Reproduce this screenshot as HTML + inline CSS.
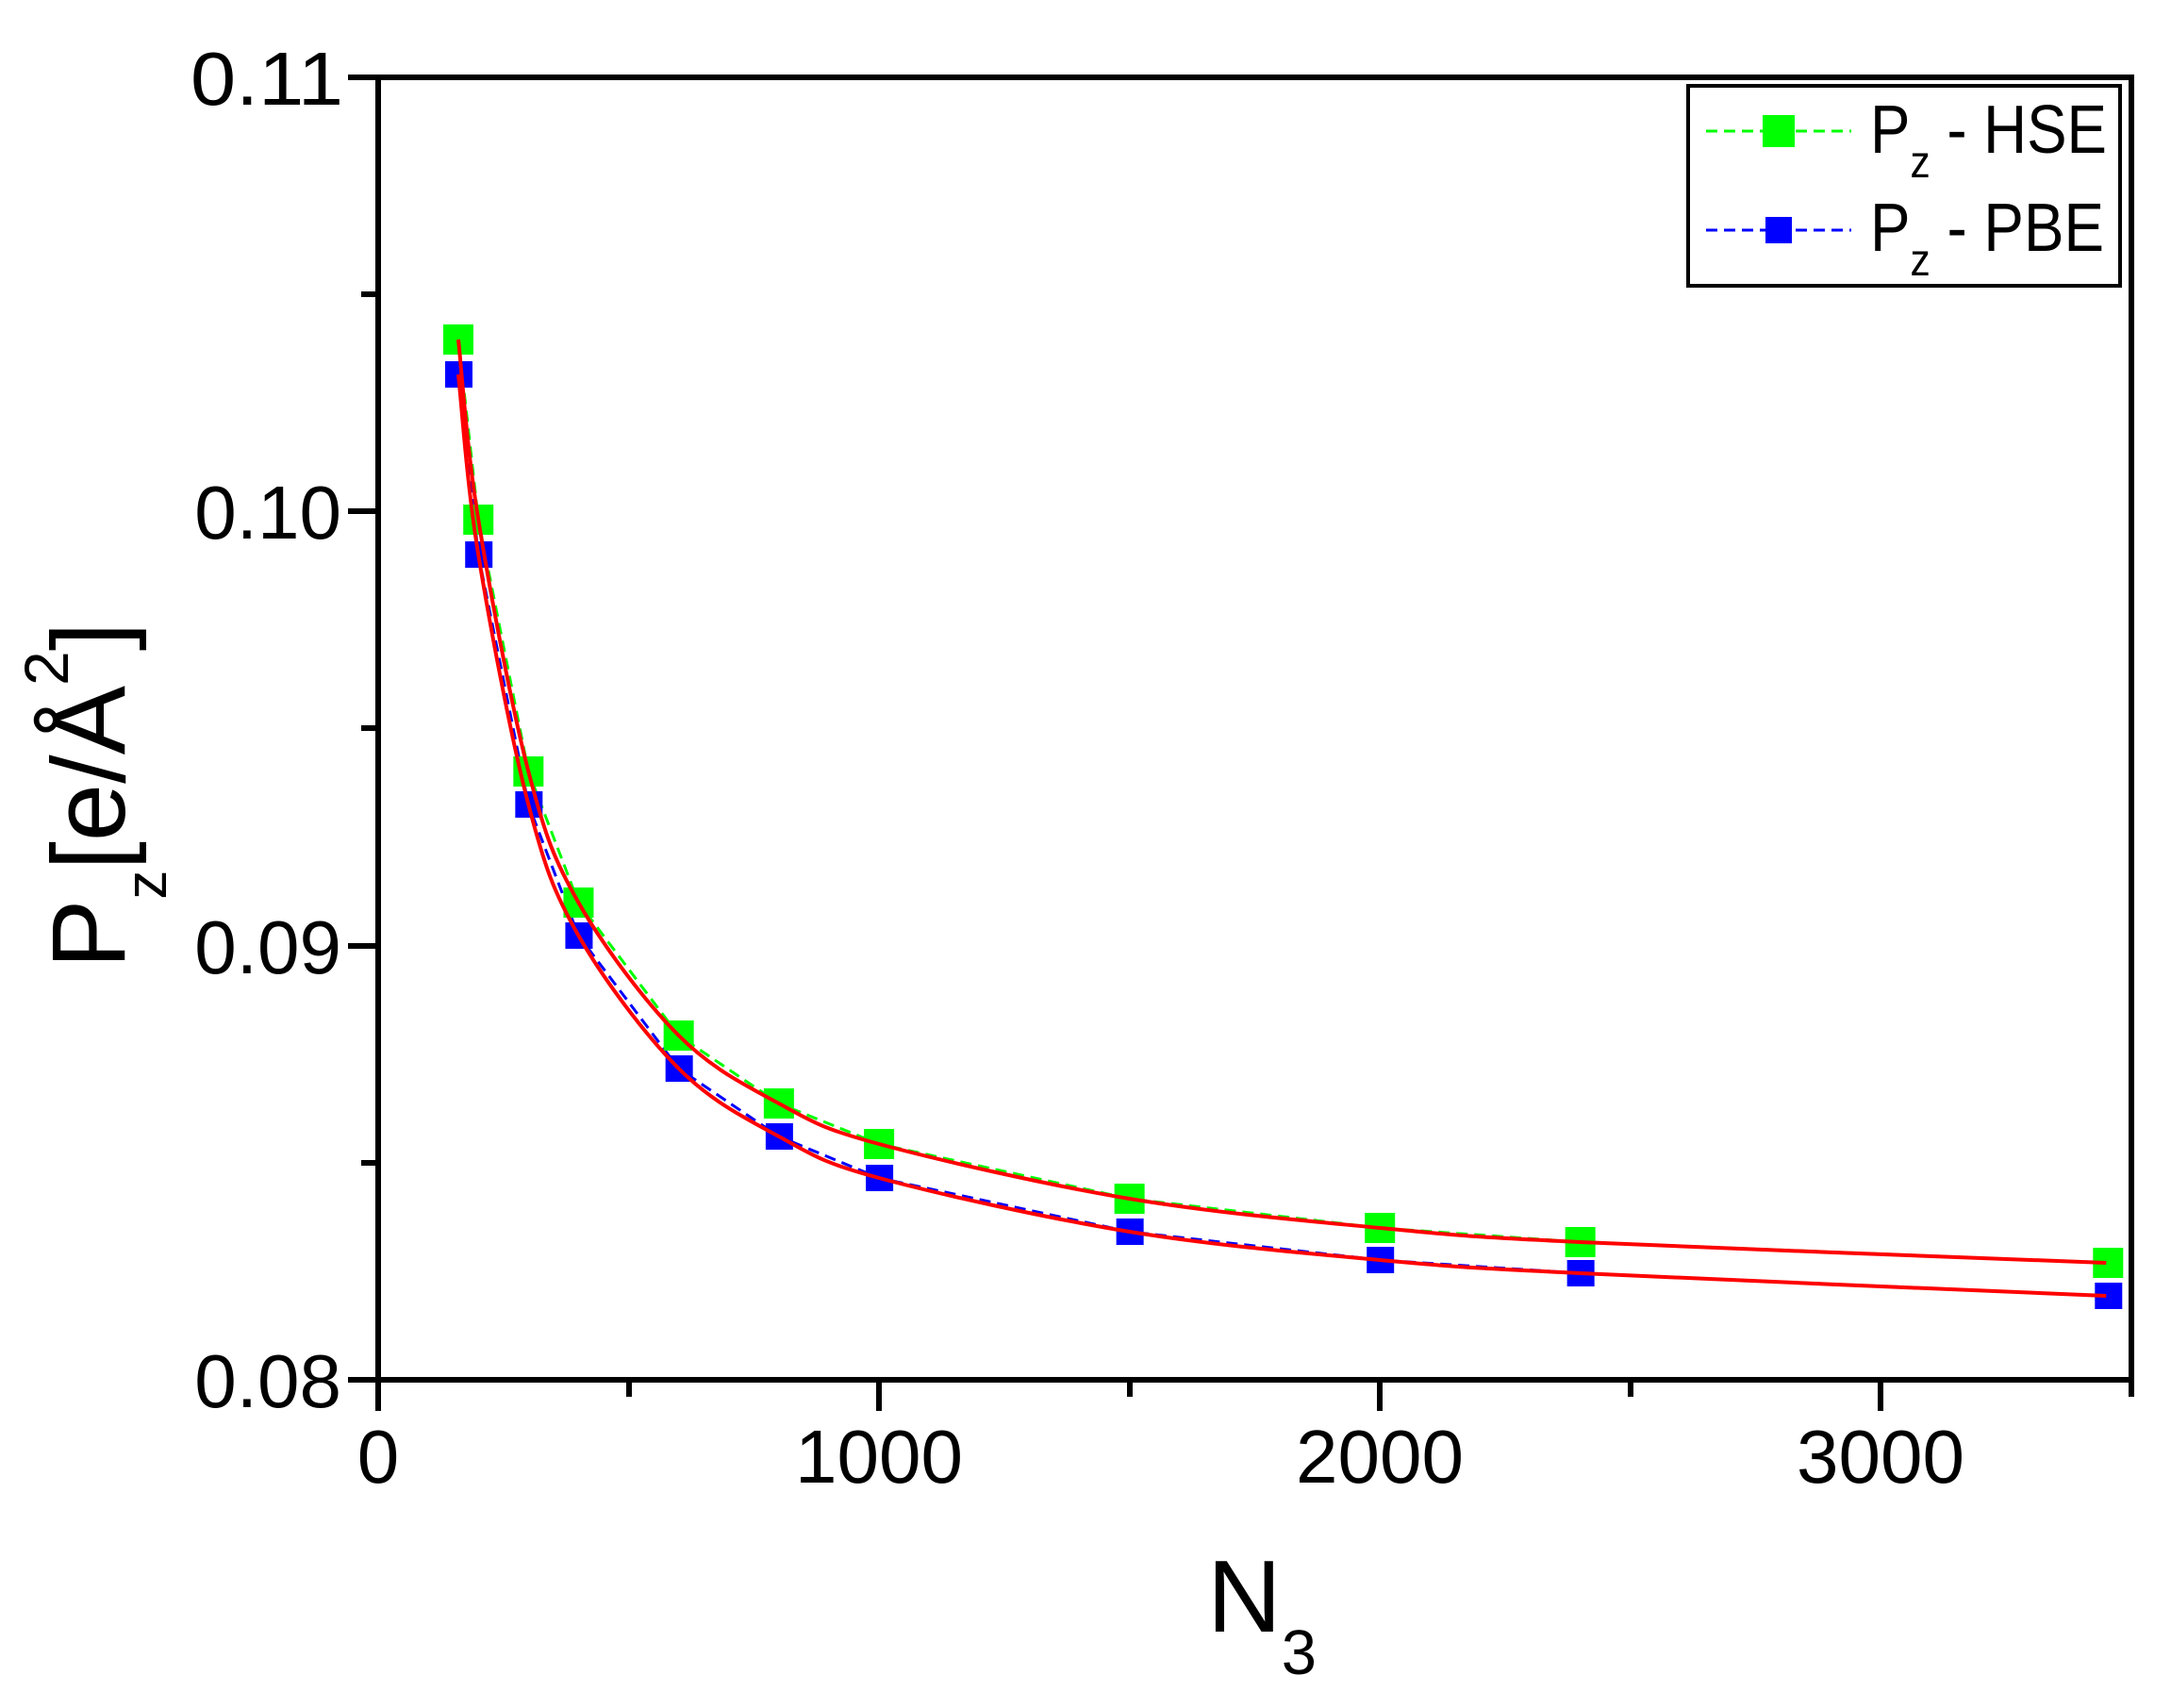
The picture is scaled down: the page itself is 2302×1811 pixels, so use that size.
<!DOCTYPE html>
<html><head><meta charset="utf-8"><style>
html,body{margin:0;padding:0;background:#fff;}
svg{display:block;}
text{font-family:"Liberation Sans",Arial,sans-serif;fill:#000;}
</style></head><body>
<svg id="s" width="2302" height="1811" viewBox="0 0 2302 1811" xmlns="http://www.w3.org/2000/svg">
<rect width="2302" height="1811" fill="#fff"/>
<g id="data"></g>
<g stroke="#000" stroke-width="6" fill="none" stroke-linecap="square">
<rect x="401" y="82" width="1859" height="1381"/>
<line x1="372" y1="82" x2="401" y2="82"/>
<line x1="372" y1="542" x2="401" y2="542"/>
<line x1="372" y1="1003" x2="401" y2="1003"/>
<line x1="372" y1="1463" x2="401" y2="1463"/>
<line x1="386" y1="312" x2="401" y2="312"/>
<line x1="386" y1="772" x2="401" y2="772"/>
<line x1="386" y1="1233" x2="401" y2="1233"/>
<line x1="401" y1="1463" x2="401" y2="1493"/>
<line x1="932" y1="1463" x2="932" y2="1493"/>
<line x1="1463" y1="1463" x2="1463" y2="1493"/>
<line x1="1994" y1="1463" x2="1994" y2="1493"/>
<line x1="667" y1="1463" x2="667" y2="1478"/>
<line x1="1198" y1="1463" x2="1198" y2="1478"/>
<line x1="1729" y1="1463" x2="1729" y2="1478"/>
<line x1="2260" y1="1463" x2="2260" y2="1478"/>
</g>
<g font-size="80" text-anchor="end">
<text x="364" y="111" textLength="162" lengthAdjust="spacingAndGlyphs">0.11</text>
<text x="362" y="571">0.10</text>
<text x="362" y="1032">0.09</text>
<text x="362" y="1492">0.08</text>
</g>
<g font-size="80" text-anchor="middle">
<text x="401" y="1572">0</text>
<text x="932" y="1572">1000</text>
<text x="1463" y="1572">2000</text>
<text x="1994" y="1572">3000</text>
</g>
<text x="1280" y="1730" font-size="109">N<tspan font-size="67" dy="45">3</tspan></text>
<text transform="translate(132,1027) rotate(-90)" font-size="110">P<tspan font-size="62" dy="44">z</tspan><tspan dy="-44">[e/Å</tspan><tspan font-size="66" dy="-60">2</tspan><tspan dy="60">]</tspan></text>
<rect x="1790" y="91" width="458" height="212" fill="#fff" stroke="#000" stroke-width="4"/>
<line x1="1809" y1="139" x2="1963" y2="139" stroke="#00ff00" stroke-width="3" stroke-dasharray="12,7"/>
<rect x="1869" y="122" width="34" height="34" fill="#00ff00"/>
<line x1="1809" y1="244" x2="1963" y2="244" stroke="#0000ff" stroke-width="3" stroke-dasharray="12,7"/>
<rect x="1872" y="230" width="28" height="28" fill="#0000ff"/>
<text x="1983" y="162" font-size="72" textLength="251" lengthAdjust="spacingAndGlyphs">P<tspan font-size="48" dy="26">z</tspan><tspan dy="-26"> - HSE</tspan></text>
<text x="1983" y="266" font-size="72" textLength="248" lengthAdjust="spacingAndGlyphs">P<tspan font-size="48" dy="26">z</tspan><tspan dy="-26"> - PBE</tspan></text>
</svg>
<script>
var N=[160,200,300,400,600,800,1000,1500,2000,2400,3450];
var H=[360,551,818,957,1098,1170,1213,1271,1302,1317,1339];
var B=[397,588,853,992,1133,1205,1249,1306,1336,1350,1374];
function px(n){return 401+n*0.5311;}
function smooth(ys){
  var p=N.map(function(n,i){return [px(n),ys[i]];});
  var d="M"+p[0][0]+","+p[0][1];
  for(var i=0;i<p.length-1;i++){
    var p0=p[i-1]||p[i],p1=p[i],p2=p[i+1],p3=p[i+2]||p[i+1];
    var c1=[p1[0]+(p2[0]-p0[0])/6,p1[1]+(p2[1]-p0[1])/6];
    var c2=[p2[0]-(p3[0]-p1[0])/6,p2[1]-(p3[1]-p1[1])/6];
    d+=" C"+c1[0].toFixed(1)+","+c1[1].toFixed(1)+" "+c2[0].toFixed(1)+","+c2[1].toFixed(1)+" "+p2[0].toFixed(1)+","+p2[1].toFixed(1);
  }
  return d;
}
function poly(ys){return N.map(function(n,i){return px(n).toFixed(1)+","+ys[i];}).join(" ");}
var g=document.getElementById("data"),s="";
s+='<polyline points="'+poly(H)+'" fill="none" stroke="#00ff00" stroke-width="3" stroke-dasharray="12,7"/>';
s+='<polyline points="'+poly(B)+'" fill="none" stroke="#0000ff" stroke-width="3" stroke-dasharray="12,7"/>';
N.forEach(function(n,i){var x=px(n)+(i==10?2:0);
 s+='<rect x="'+(x-16)+'" y="'+(H[i]-16)+'" width="32" height="32" fill="#00ff00"/>';});
N.forEach(function(n,i){var x=px(n)+(i==10?2:0);
 s+='<rect x="'+(x-14)+'" y="'+(B[i]-14)+'" width="29" height="28" fill="#0000ff"/>';});
s+='<path d="'+smooth(H)+'" fill="none" stroke="#ff0000" stroke-width="4"/>';
s+='<path d="'+smooth(B)+'" fill="none" stroke="#ff0000" stroke-width="4"/>';
g.innerHTML=s;
</script>
</body></html>
